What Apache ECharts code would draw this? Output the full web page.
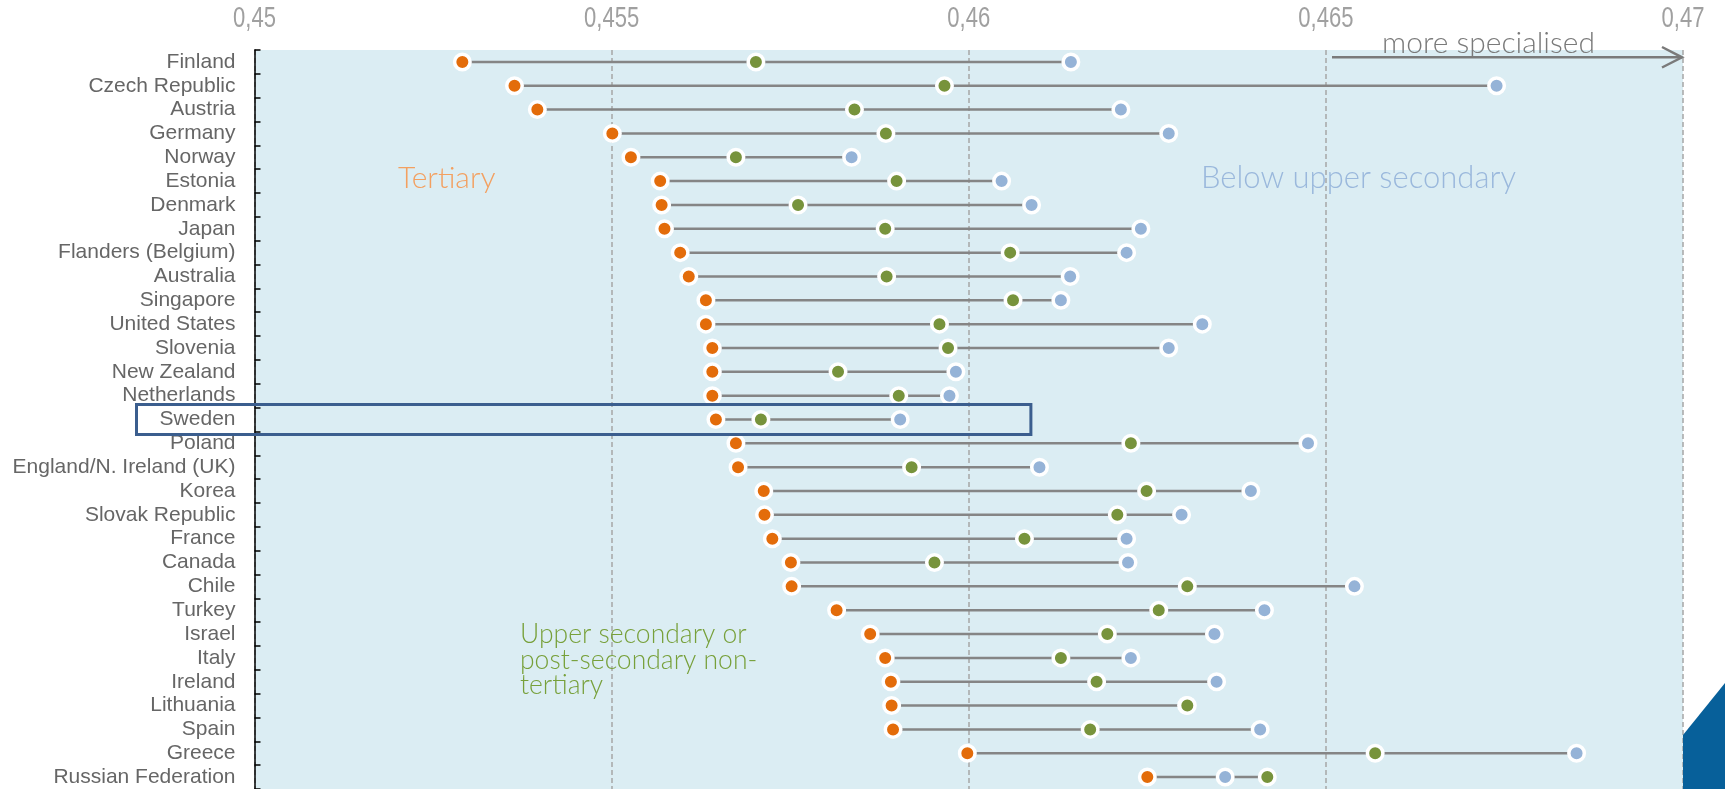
<!DOCTYPE html>
<html>
<head>
<meta charset="utf-8">
<script src="https://cdn.jsdelivr.net/npm/echarts@6/dist/echarts.min.js"></script>
<style>
html,body{margin:0;padding:0;background:#fff;}
#chart{width:1725px;height:789px;}
</style>
</head>
<body>
<div id="chart"></div>
<script>
const categories = ['Finland','Czech Republic','Austria','Germany','Norway','Estonia','Denmark','Japan','Flanders (Belgium)','Australia','Singapore','United States','Slovenia','New Zealand','Netherlands','Sweden','Poland','England/N. Ireland (UK)','Korea','Slovak Republic','France','Canada','Chile','Turkey','Israel','Italy','Ireland','Lithuania','Spain','Greece','Russian Federation'];
const tertiary = [0.45291,0.45364,0.45396,0.45501,0.45527,0.45568,0.45570,0.45574,0.45596,0.45608,0.45632,0.45632,0.45641,0.45641,0.45641,0.45646,0.45674,0.45677,0.45713,0.45714,0.45725,0.45751,0.45752,0.45815,0.45862,0.45883,0.45891,0.45892,0.45894,0.45998,0.46250];
const upperSecondary = [0.45702,0.45966,0.45840,0.45884,0.45674,0.45899,0.45761,0.45883,0.46058,0.45885,0.46062,0.45959,0.45971,0.45817,0.45902,0.45709,0.46227,0.45920,0.46249,0.46208,0.46078,0.45952,0.46306,0.46266,0.46194,0.46129,0.46179,0.46306,0.46170,0.46569,0.46418];
const belowUpperSecondary = [0.46143,0.46739,0.46213,0.46280,0.45836,0.46046,0.46088,0.46241,0.46221,0.46142,0.46129,0.46327,0.46280,0.45982,0.45973,0.45904,0.46475,0.46099,0.46395,0.46298,0.46221,0.46223,0.46540,0.46414,0.46344,0.46227,0.46347,0.46305,0.46408,0.46851,0.46359];
const xTickValues = [0.45,0.455,0.46,0.465,0.47];
const xTickLabels = ['0,45','0,455','0,46','0,465','0,47'];
const xMin = 0.45, xMax = 0.47, xStep = 0.005;
const highlightCategory = 'Sweden';
const highlightRightValue = 0.46087;

const chart = echarts.init(document.getElementById('chart'), null, {renderer:'canvas'});

const connectorData = categories.map((c,i)=>{
  const vals=[tertiary[i],upperSecondary[i],belowUpperSecondary[i]];
  return [i, Math.min(...vals), Math.max(...vals)];
});
const toPts = arr => arr.map((v,i)=>[v,i]);

const dotStyle = color => ({color:color, borderColor:'#ffffff', borderWidth:3.5, opacity:1});

const option = {
  animation:false,
  backgroundColor:'#ffffff',
  grid:{left:254.5, right:42, top:50, height:741.2, show:true, backgroundColor:'#dbedf3', borderWidth:0},
  xAxis:{
    type:'value', position:'top', min:xMin, max:xMax, interval:xStep,
    axisLine:{show:false}, axisTick:{show:false},
    axisLabel:{show:false},
    splitLine:{show:true, lineStyle:{type:[5,3], color:'#a6a6a6', width:1.5}}
  },
  yAxis:{
    type:'category', data:categories, inverse:true,
    axisLine:{show:true, lineStyle:{color:'#000000', width:1.5}},
    axisTick:{show:true, inside:true, length:6, lineStyle:{color:'#000000', width:1.5}},
    axisLabel:{interval:0, color:'#666666', fontSize:21, fontFamily:'"Liberation Sans",Arial,sans-serif', margin:19},
    splitLine:{show:false}
  },
  series:[
    {
      type:'custom', name:'connector', data:connectorData, encode:{x:[1,2], y:0}, z:1,
      renderItem:(params, api)=>{
        const y=api.value(0);
        const p1=api.coord([api.value(1), y]);
        const p2=api.coord([api.value(2), y]);
        return {type:'line', shape:{x1:p1[0], y1:p1[1], x2:p2[0], y2:p2[1]}, style:{stroke:'#858585', lineWidth:2.5}};
      }
    },
    {type:'scatter', name:'Below upper secondary', data:toPts(belowUpperSecondary), symbolSize:15.5, itemStyle:dotStyle('#95b3d7'), z:3},
    {type:'scatter', name:'Upper secondary or post-secondary non-tertiary', data:toPts(upperSecondary), symbolSize:15.5, itemStyle:dotStyle('#77933c'), z:4},
    {type:'scatter', name:'Tertiary', data:toPts(tertiary), symbolSize:15.5, itemStyle:dotStyle('#e36c0a'), z:5}
  ]
};
chart.setOption(option);

const idx = categories.indexOf(highlightCategory);
const yC = chart.convertToPixel({yAxisIndex:0}, idx);
const xR = chart.convertToPixel({xAxisIndex:0}, highlightRightValue);
const x47 = chart.convertToPixel({xAxisIndex:0}, xMax);
const annFont = 'Lato, "Open Sans", sans-serif';

const tickLabelGraphics = xTickValues.map((v,i)=>({
  type:'text', z:100, x:chart.convertToPixel({xAxisIndex:0}, v), y:19, scaleX:0.76,
  style:{text:xTickLabels[i], fill:'#a0a0a0', font:'29px "Liberation Sans", Arial, sans-serif', textAlign:'center', textVerticalAlign:'middle'}
}));

chart.setOption({
  graphic:tickLabelGraphics.concat([
    {type:'rect', z:100, shape:{x:136.5, y:yC-15, width:xR-136.5, height:30}, style:{fill:'none', stroke:'#3b5e8e', lineWidth:3}},
    {type:'text', z:100, x:398, y:178, style:{text:'Tertiary', fill:'#f3a060', font:'300 30px '+annFont, textVerticalAlign:'middle'}},
    {type:'text', z:100, x:1201, y:178, style:{text:'Below upper secondary', fill:'#9ab8dc', font:'300 31px '+annFont, textVerticalAlign:'middle'}},
    {type:'text', z:100, x:520, y:660, style:{text:'Upper secondary or\npost-secondary non-\ntertiary', fill:'#77a03a', font:'300 26.5px '+annFont, lineHeight:25.5, textVerticalAlign:'middle'}},
    {type:'text', z:100, x:1382, y:43.5, style:{text:'more specialised', fill:'#7a7a7a', font:'300 30px '+annFont, textVerticalAlign:'middle'}},
    {type:'polyline', z:100, shape:{points:[[1332,57.3],[x47-1,57.3]]}, style:{stroke:'#7a7a7a', lineWidth:2.5}},
    {type:'polyline', z:100, shape:{points:[[x47-21,47],[x47-1,57.3],[x47-21,67.5]]}, style:{stroke:'#7a7a7a', lineWidth:2.5, fill:'none'}},
    {type:'polygon', z:100, shape:{points:[[x47,735],[1725,683],[1725,789],[x47,789]]}, style:{fill:'#07609a'}}
  ])
});
</script>
</body>
</html>
